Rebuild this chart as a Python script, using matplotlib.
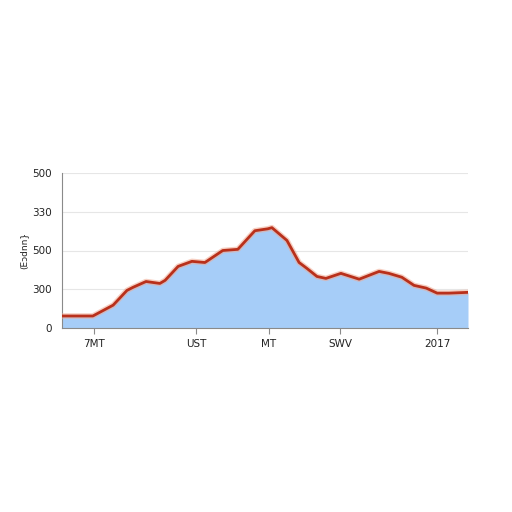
import matplotlib
matplotlib.use("Agg")
import matplotlib.pyplot as plt

# data (x in 0..100 axis units, y in 0..400 axis units)
x_vals = [0, 7.6, 12.6, 16.0, 17.5, 20.7, 24.1, 25.4, 28.6, 32.0, 35.2, 39.6, 43.3,
          47.5, 50.7, 51.7, 55.4, 58.4, 60.3, 62.8, 65.0, 68.7, 73.2, 78.1, 80.5,
          83.7, 86.7, 89.7, 92.4, 95.3, 100]
y_vals = [31, 31, 59, 97, 105, 120, 115, 123, 159, 172, 169, 200, 203,
          251, 256, 259, 226, 169, 154, 133, 128, 141, 126, 146, 141,
          131, 110, 103, 90, 90, 92]

x_tick_pos = [7.9, 33.0, 51.0, 68.5, 92.4]
x_tick_labels = ["7MT", "UST", "MT", "SWV", "2017"]
y_tick_pos = [0, 100, 200, 300, 400]
y_tick_labels = ["0", "300", "500", "330", "500"]
y_label = "(Eɔdnn}"

fig = plt.figure(figsize=(5.12, 5.12), dpi=100)
ax = fig.add_axes([62/512, (512-328)/512, 406/512, 155/512])

ax.fill_between(x_vals, y_vals, 0, color="#a6cdf8", zorder=2, linewidth=0)
ax.plot(x_vals, y_vals, color="#f0a890", linewidth=4.0, alpha=0.55, zorder=3,
        solid_joinstyle="round")
ax.plot(x_vals, y_vals, color="#b9301b", linewidth=2.0, zorder=4,
        solid_joinstyle="round")

ax.set_xlim(0, 100)
ax.set_ylim(0, 400)
ax.set_xticks(x_tick_pos)
ax.set_xticklabels(x_tick_labels, fontsize=7.5, color="#222222")
ax.set_yticks(y_tick_pos)
ax.set_yticklabels(y_tick_labels, fontsize=7.5, color="#222222")
ax.set_ylabel(y_label, fontsize=6.5, color="#222222", labelpad=3)

ax.grid(axis="y", color="#e6e6e6", linewidth=0.8, zorder=0)
ax.set_axisbelow(True)
for s in ["top", "right"]:
    ax.spines[s].set_visible(False)
ax.spines["left"].set_color("#8a8a8a")
ax.spines["bottom"].set_color("#8a8a8a")
ax.tick_params(axis="y", length=0, pad=7)
ax.tick_params(axis="x", length=4, color="#8a8a8a", pad=4)

fig.savefig("out.png", dpi=100)
